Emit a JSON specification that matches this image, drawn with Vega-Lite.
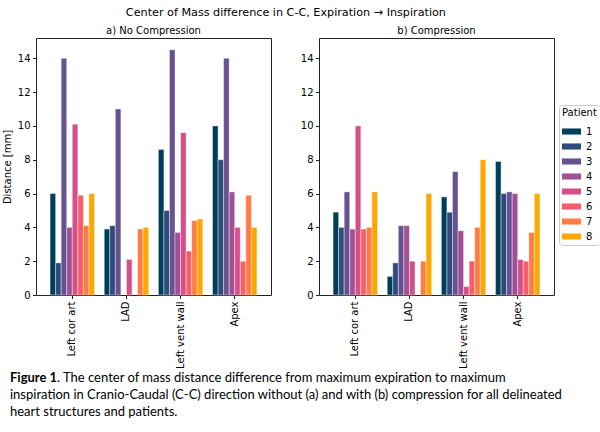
{
  "$schema": "https://vega.github.io/schema/vega-lite/v6.json",
  "padding": {"left": 1, "top": 7, "right": 0, "bottom": 0},
  "background": "white",
  "title": {
    "text": "Center of Mass difference in C-C, Expiration → Inspiration",
    "font": "DejaVu Sans",
    "fontSize": 11.2,
    "fontWeight": "normal",
    "anchor": "middle",
    "dx": -27,
    "offset": 7
  },
  "datasets": {
    "motion": [
      {"panel": "a", "structure": "Left cor art", "patient": "1", "value": 6.0},
      {"panel": "a", "structure": "Left cor art", "patient": "2", "value": 1.9},
      {"panel": "a", "structure": "Left cor art", "patient": "3", "value": 14.0},
      {"panel": "a", "structure": "Left cor art", "patient": "4", "value": 4.0},
      {"panel": "a", "structure": "Left cor art", "patient": "5", "value": 10.1},
      {"panel": "a", "structure": "Left cor art", "patient": "6", "value": 5.9},
      {"panel": "a", "structure": "Left cor art", "patient": "7", "value": 4.1},
      {"panel": "a", "structure": "Left cor art", "patient": "8", "value": 6.0},
      {"panel": "a", "structure": "LAD", "patient": "1", "value": 3.9},
      {"panel": "a", "structure": "LAD", "patient": "2", "value": 4.1},
      {"panel": "a", "structure": "LAD", "patient": "3", "value": 11.0},
      {"panel": "a", "structure": "LAD", "patient": "5", "value": 2.1},
      {"panel": "a", "structure": "LAD", "patient": "7", "value": 3.9},
      {"panel": "a", "structure": "LAD", "patient": "8", "value": 4.0},
      {"panel": "a", "structure": "Left vent wall", "patient": "1", "value": 8.6},
      {"panel": "a", "structure": "Left vent wall", "patient": "2", "value": 5.0},
      {"panel": "a", "structure": "Left vent wall", "patient": "3", "value": 14.5},
      {"panel": "a", "structure": "Left vent wall", "patient": "4", "value": 3.7},
      {"panel": "a", "structure": "Left vent wall", "patient": "5", "value": 9.6},
      {"panel": "a", "structure": "Left vent wall", "patient": "6", "value": 2.6},
      {"panel": "a", "structure": "Left vent wall", "patient": "7", "value": 4.4},
      {"panel": "a", "structure": "Left vent wall", "patient": "8", "value": 4.5},
      {"panel": "a", "structure": "Apex", "patient": "1", "value": 10.0},
      {"panel": "a", "structure": "Apex", "patient": "2", "value": 8.0},
      {"panel": "a", "structure": "Apex", "patient": "3", "value": 14.0},
      {"panel": "a", "structure": "Apex", "patient": "4", "value": 6.1},
      {"panel": "a", "structure": "Apex", "patient": "5", "value": 4.0},
      {"panel": "a", "structure": "Apex", "patient": "6", "value": 2.0},
      {"panel": "a", "structure": "Apex", "patient": "7", "value": 5.9},
      {"panel": "a", "structure": "Apex", "patient": "8", "value": 4.0},
      {"panel": "b", "structure": "Left cor art", "patient": "1", "value": 4.9},
      {"panel": "b", "structure": "Left cor art", "patient": "2", "value": 4.0},
      {"panel": "b", "structure": "Left cor art", "patient": "3", "value": 6.1},
      {"panel": "b", "structure": "Left cor art", "patient": "4", "value": 3.9},
      {"panel": "b", "structure": "Left cor art", "patient": "5", "value": 10.0},
      {"panel": "b", "structure": "Left cor art", "patient": "6", "value": 3.9},
      {"panel": "b", "structure": "Left cor art", "patient": "7", "value": 4.0},
      {"panel": "b", "structure": "Left cor art", "patient": "8", "value": 6.1},
      {"panel": "b", "structure": "LAD", "patient": "1", "value": 1.1},
      {"panel": "b", "structure": "LAD", "patient": "2", "value": 1.9},
      {"panel": "b", "structure": "LAD", "patient": "3", "value": 4.1},
      {"panel": "b", "structure": "LAD", "patient": "4", "value": 4.1},
      {"panel": "b", "structure": "LAD", "patient": "5", "value": 2.0},
      {"panel": "b", "structure": "LAD", "patient": "7", "value": 2.0},
      {"panel": "b", "structure": "LAD", "patient": "8", "value": 6.0},
      {"panel": "b", "structure": "Left vent wall", "patient": "1", "value": 5.8},
      {"panel": "b", "structure": "Left vent wall", "patient": "2", "value": 4.9},
      {"panel": "b", "structure": "Left vent wall", "patient": "3", "value": 7.3},
      {"panel": "b", "structure": "Left vent wall", "patient": "4", "value": 3.8},
      {"panel": "b", "structure": "Left vent wall", "patient": "5", "value": 0.5},
      {"panel": "b", "structure": "Left vent wall", "patient": "6", "value": 2.0},
      {"panel": "b", "structure": "Left vent wall", "patient": "7", "value": 4.0},
      {"panel": "b", "structure": "Left vent wall", "patient": "8", "value": 8.0},
      {"panel": "b", "structure": "Apex", "patient": "1", "value": 7.9},
      {"panel": "b", "structure": "Apex", "patient": "2", "value": 6.0},
      {"panel": "b", "structure": "Apex", "patient": "3", "value": 6.1},
      {"panel": "b", "structure": "Apex", "patient": "4", "value": 6.0},
      {"panel": "b", "structure": "Apex", "patient": "5", "value": 2.1},
      {"panel": "b", "structure": "Apex", "patient": "6", "value": 2.0},
      {"panel": "b", "structure": "Apex", "patient": "7", "value": 3.7},
      {"panel": "b", "structure": "Apex", "patient": "8", "value": 6.0}
    ],
    "caption": [
      {"line": 1, "part": "bold", "text": "Figure 1"},
      {"line": 1, "part": "rest", "text": ". The center of mass distance difference from maximum expiration to maximum"},
      {"line": 2, "part": "plain", "text": "inspiration in Cranio-Caudal (C-C) direction without (a) and with (b) compression for all delineated"},
      {"line": 3, "part": "plain", "text": "heart structures and patients."}
    ]
  },
  "vconcat": [
    {
      "hconcat": [
        {
          "title": {"text": "a) No Compression"},
          "width": 235,
          "height": 257,
          "data": {"name": "motion"},
          "transform": [{"filter": "datum.panel == 'a'"}],
          "mark": {"type": "bar", "stroke": "white", "strokeWidth": 0.4},
          "encoding": {
            "x": {
              "field": "structure",
              "type": "nominal",
              "sort": ["Left cor art", "LAD", "Left vent wall", "Apex"],
              "scale": {"paddingInner": 0.18, "paddingOuter": 0.26},
              "axis": {"title": null, "labelAngle": -90}
            },
            "xOffset": {"field": "patient", "type": "nominal", "scale": {"domain": ["1", "2", "3", "4", "5", "6", "7", "8"], "paddingInner": 0}},
            "y": {
              "field": "value",
              "type": "quantitative",
              "scale": {"domain": [0, 15.2], "nice": false},
              "axis": {"title": "Distance [mm]", "values": [0, 2, 4, 6, 8, 10, 12, 14]}
            },
            "color": {
              "field": "patient",
              "type": "nominal",
              "scale": {
                "domain": ["1", "2", "3", "4", "5", "6", "7", "8"],
                "range": ["#003f5c", "#2f4b7c", "#665191", "#a05195", "#d45087", "#f95d6a", "#ff7c43", "#ffa600"]
              },
              "legend": {
                "title": "Patient",
                "orient": "none",
                "legendX": 523,
                "legendY": 67,
                "symbolType": "M-1,-0.32H1V0.32H-1Z",
                "symbolSize": 361,
                "symbolStrokeWidth": 0,
                "padding": 3,
                "strokeColor": "#cccccc",
                "cornerRadius": 3,
                "rowPadding": -8.3,
                "labelOffset": 5
              }
            }
          }
        },
        {
          "title": {"text": "b) Compression"},
          "width": 235,
          "height": 257,
          "data": {"name": "motion"},
          "transform": [{"filter": "datum.panel == 'b'"}],
          "mark": {"type": "bar", "stroke": "white", "strokeWidth": 0.4},
          "encoding": {
            "x": {
              "field": "structure",
              "type": "nominal",
              "sort": ["Left cor art", "LAD", "Left vent wall", "Apex"],
              "scale": {"paddingInner": 0.18, "paddingOuter": 0.26},
              "axis": {"title": null, "labelAngle": -90}
            },
            "xOffset": {"field": "patient", "type": "nominal", "scale": {"domain": ["1", "2", "3", "4", "5", "6", "7", "8"], "paddingInner": 0}},
            "y": {
              "field": "value",
              "type": "quantitative",
              "scale": {"domain": [0, 15.2], "nice": false},
              "axis": {"title": null, "values": [0, 2, 4, 6, 8, 10, 12, 14]}
            },
            "color": {"field": "patient", "type": "nominal"}
          }
        }
      ],
      "spacing": 27
    },
    {
      "width": 588,
      "height": 51,
      "view": {"stroke": null},
      "data": {"name": "caption"},
      "encoding": {
        "y": {"field": "line", "type": "ordinal", "axis": null},
        "x": {"value": -26},
        "text": {"field": "text"}
      },
      "layer": [
        {
          "transform": [{"filter": "datum.part == 'bold'"}],
          "mark": {"type": "text", "align": "left", "font": "Lato", "fontSize": 13, "fontWeight": "bold", "color": "black"}
        },
        {
          "transform": [{"filter": "datum.part == 'rest'"}],
          "mark": {"type": "text", "align": "left", "dx": 47, "font": "Lato", "fontSize": 13, "color": "black"}
        },
        {
          "transform": [{"filter": "datum.part == 'plain'"}],
          "mark": {"type": "text", "align": "left", "font": "Lato", "fontSize": 13, "color": "black"}
        }
      ]
    }
  ],
  "spacing": 0,
  "config": {
    "font": "DejaVu Sans",
    "view": {"stroke": "#222222", "strokeWidth": 1},
    "title": {"font": "DejaVu Sans", "fontSize": 10, "fontWeight": "normal", "color": "black", "offset": 2},
    "axis": {
      "domain": false,
      "grid": false,
      "tickColor": "#222222",
      "tickSize": 3.5,
      "labelFont": "DejaVu Sans",
      "labelFontSize": 10,
      "labelColor": "black",
      "labelPadding": 2.5,
      "titleFont": "DejaVu Sans",
      "titleFontSize": 10,
      "titleFontWeight": "normal",
      "titleColor": "black",
      "titlePadding": 5
    },
    "legend": {
      "titleFont": "DejaVu Sans",
      "titleFontSize": 10,
      "titleFontWeight": "normal",
      "titleColor": "black",
      "titlePadding": 4,
      "labelFont": "DejaVu Sans",
      "labelFontSize": 10,
      "labelColor": "black"
    }
  }
}
